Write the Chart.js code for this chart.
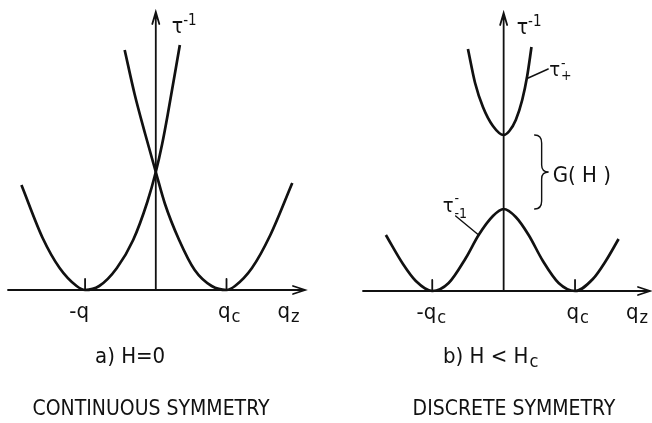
<!DOCTYPE html>
<html>
<head>
<meta charset="utf-8">
<title>Relaxation rate vs q_z</title>
<script src="https://cdn.jsdelivr.net/npm/chart.js@4.4.1/dist/chart.umd.min.js"></script>
<style>
  body { margin: 0; background: #fff; }
  #figure { position: relative; width: 652px; height: 423px; overflow: hidden; }
  #figure canvas { position: absolute; top: 0; }
</style>
</head>
<body>
<div id="figure">
  <canvas id="panelA" width="326" height="423" style="left:0"></canvas>
  <canvas id="panelB" width="326" height="423" style="left:326px"></canvas>
</div>
<script>
const QC = 1;

// a) H = 0 : two branches, minima at -qc and +qc, crossing on the tau^-1 axis
const qA1   = [-1.90, -1.60, -1.36, -1.12, -1.00, -0.80, -0.55, -0.32, -0.12, 0.00, 0.09, 0.17, 0.34];
const tauA1 = [ 1.05,  0.52,  0.22,  0.04,  0.00,  0.04,  0.22,  0.50,  0.88, 1.18, 1.46, 1.76, 2.45];
const qA2   = [-0.44, -0.30, -0.15, 0.00, 0.13, 0.33, 0.55, 0.79, 1.00, 1.12, 1.36, 1.62, 1.93];
const tauA2 = [ 2.40,  1.96,  1.56, 1.18, 0.86, 0.50, 0.20, 0.04, 0.00, 0.04, 0.22, 0.55, 1.07];

// b) H < Hc : lower branch tau_-1 (double well) and upper branch tau_+
const qB1   = [-1.65, -1.41, -1.23, -1.00, -0.77, -0.53, -0.35, -0.15, 0.00, 0.17, 0.35, 0.55, 0.77, 1.00, 1.25, 1.43, 1.61];
const tauB1 = [ 0.56,  0.27,  0.10,  0.00,  0.08,  0.33,  0.56,  0.75, 0.82, 0.74, 0.56, 0.30, 0.08, 0.00, 0.12, 0.30, 0.52];
const qB2   = [-0.50, -0.40, -0.29, -0.15, 0.00, 0.08, 0.17, 0.26, 0.33, 0.39];
const tauB2 = [ 2.42,  2.08,  1.84,  1.65, 1.56, 1.60, 1.71, 1.91, 2.15, 2.44];

// tick labels under the q_z axis at -qc and +qc: [base, subscript]
const tickLabelsA = [['-q', ''], ['q', 'c']];
const tickLabelsB = [['-q', 'c'], ['q', 'c']];

const FONT = '"DejaVu Sans Condensed", "DejaVu Sans", sans-serif';
const INK = '#111';

const pts = (xs, ys) => xs.map((x, i) => ({ x, y: ys[i] }));

function text(ctx, str, x, y, size, align = 'left') {
  ctx.font = size + 'px ' + FONT;
  ctx.textAlign = align;
  ctx.fillText(str, x, y);
  const w = ctx.measureText(str).width;
  ctx.textAlign = 'left';
  return w;
}

function curve(data) {
  return {
    data,
    showLine: true,
    borderColor: INK,
    borderWidth: 2.7,
    pointRadius: 0,
    cubicInterpolationMode: 'monotone',
    fill: false,
    clip: false
  };
}

// axes with open arrow heads, tick marks, labels and captions
function sketchPlugin(cfg) {
  return {
    id: 'sketch',
    afterDatasetsDraw(chart) {
      const { ctx, chartArea: a } = chart;
      const xs = chart.scales.x, ys = chart.scales.y;
      const x0 = xs.getPixelForValue(0), y0 = ys.getPixelForValue(0);
      ctx.save();
      ctx.strokeStyle = INK;
      ctx.fillStyle = INK;
      ctx.lineWidth = 1.8;
      ctx.lineCap = 'round';

      ctx.beginPath();
      ctx.moveTo(a.left, y0); ctx.lineTo(a.right, y0);
      ctx.moveTo(a.right - 12, y0 - 4); ctx.lineTo(a.right, y0); ctx.lineTo(a.right - 12, y0 + 4);
      ctx.moveTo(x0, y0); ctx.lineTo(x0, a.top);
      ctx.moveTo(x0 - 3.5, a.top + 12); ctx.lineTo(x0, a.top); ctx.lineTo(x0 + 3.5, a.top + 12);
      [-QC, QC].forEach(v => {
        const px = xs.getPixelForValue(v);
        ctx.moveTo(px, y0); ctx.lineTo(px, y0 - 11);
      });
      ctx.stroke();

      // tick labels
      [-QC, QC].forEach((v, i) => {
        const px = xs.getPixelForValue(v);
        const [base, sub] = cfg.tickLabels[i];
        text(ctx, base, px + 4, y0 + 28, 22, 'right');
        if (sub) text(ctx, sub, px + 5, y0 + 32, 18);
      });
      const qzX = xs.getPixelForValue(QC) + 51;
      const w = text(ctx, 'q', qzX, y0 + 28, 22);
      text(ctx, 'z', qzX + w + 1, y0 + 32, 18);

      // tau^-1 on the vertical axis
      const tw = text(ctx, '\u03C4', x0 + cfg.tauDx, a.top + 21, 21);
      text(ctx, '-1', x0 + cfg.tauDx + tw, a.top + 13, 15);

      // panel title and caption
      const hw = text(ctx, cfg.title, cfg.titleX, 363, 22);
      if (cfg.titleSub) text(ctx, cfg.titleSub, cfg.titleX + hw + 1, 367, 18);
      text(ctx, cfg.caption, cfg.captionX, 415, 21, 'center');

      if (cfg.extra) cfg.extra(chart, ctx, xs, ys, x0);
      ctx.restore();
    }
  };
}

function makeChart(id, datasets, xRange, padding, cfg) {
  return new Chart(document.getElementById(id), {
    type: 'scatter',
    data: { datasets },
    options: {
      responsive: false,
      animation: false,
      devicePixelRatio: 1,
      layout: { padding },
      plugins: { legend: { display: false }, tooltip: { enabled: false } },
      scales: {
        x: { type: 'linear', display: false, min: xRange[0], max: xRange[1] },
        y: { type: 'linear', display: false, min: 0, max: 2.78 }
      }
    },
    plugins: [sketchPlugin(cfg)]
  });
}

makeChart('panelA',
  [curve(pts(qA1, tauA1)), curve(pts(qA2, tauA2))],
  [-2.09, 2.11],
  { left: 8, right: 21, top: 12, bottom: 133 },
  {
    tickLabels: tickLabelsA,
    tauDx: 16,
    title: 'a) H=0', titleSub: '', titleX: 95,
    caption: 'CONTINUOUS SYMMETRY', captionX: 151
  });

makeChart('panelB',
  [curve(pts(qB1, tauB1)), curve(pts(qB2, tauB2))],
  [-1.97, 2.05],
  { left: 37, right: 2, top: 13, bottom: 132 },
  {
    tickLabels: tickLabelsB,
    tauDx: 13,
    title: 'b) H < H', titleSub: 'c', titleX: 117,
    caption: 'DISCRETE SYMMETRY', captionX: 188,
    extra(chart, ctx, xs, ys, x0) {
      ctx.lineWidth = 1.4;

      // brace spanning the gap between the two branches
      const yTop = ys.getPixelForValue(Math.min(...tauB2));
      const yBot = ys.getPixelForValue(Math.max(...tauB1));
      const mid = (yTop + yBot) / 2;
      const bx = x0 + 31;
      ctx.beginPath();
      ctx.moveTo(bx, yTop);
      ctx.quadraticCurveTo(bx + 7, yTop, bx + 7, yTop + 8);
      ctx.lineTo(bx + 7, mid - 7);
      ctx.quadraticCurveTo(bx + 7, mid, bx + 14, mid);
      ctx.quadraticCurveTo(bx + 7, mid, bx + 7, mid + 7);
      ctx.lineTo(bx + 7, yBot - 8);
      ctx.quadraticCurveTo(bx + 7, yBot, bx, yBot);
      ctx.stroke();
      text(ctx, 'G( H )', bx + 18, mid + 10, 22);

      // leader to the upper branch
      const ux = xs.getPixelForValue(qB2[8]), uy = ys.getPixelForValue(tauB2[8]);
      ctx.beginPath();
      ctx.moveTo(ux + 1, uy + 2); ctx.lineTo(ux + 21, uy - 7);
      ctx.stroke();
      const tu = text(ctx, '\u03C4', ux + 22, uy, 20);
      text(ctx, '-', ux + 23 + tu, uy - 8, 14);
      text(ctx, '+', ux + 23 + tu, uy + 4, 14);

      // leader to the lower branch
      const lx = xs.getPixelForValue(qB1[6]), ly = ys.getPixelForValue(tauB1[6]);
      ctx.beginPath();
      ctx.moveTo(lx, ly); ctx.lineTo(lx - 23, ly - 19);
      ctx.stroke();
      const tl = text(ctx, '\u03C4', lx - 36, ly - 23, 20);
      text(ctx, '-', lx - 35 + tl, ly - 32, 14);
      text(ctx, '-1', lx - 35 + tl, ly - 17, 14);
    }
  });
</script>
</body>
</html>
